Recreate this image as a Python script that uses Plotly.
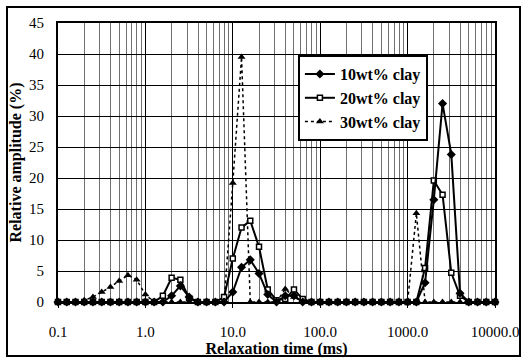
import plotly.graph_objects as go

# Relaxation time grid: 10 points per decade, 0.1 ms .. 10000 ms (51 points)
relax_time_ms = [round(0.1 * 10 ** (i / 10), 6) for i in range(51)]

clay_10wt = [0, 0, 0, 0, 0, 0, 0, 0, 0, 0,
             0, 0, 0, 1.0, 2.6, 0.8, 0, 0, 0, 0,
             1.6, 5.6, 6.8, 4.6, 1.2, 0, 1.0, 1.0, 0, 0,
             0, 0, 0, 0, 0, 0, 0, 0, 0, 0,
             0, 0, 3.1, 16.5, 32.0, 23.8, 1.4, 0, 0, 0,
             0]
clay_20wt = [0, 0, 0, 0, 0, 0, 0, 0, 0, 0,
             0, 0, 1.0, 3.9, 3.6, 0.6, 0, 0, 0, 0.8,
             7.0, 12.0, 13.1, 8.9, 2.0, 0.3, 0.5, 2.0, 0.5, 0,
             0, 0, 0, 0, 0, 0, 0, 0, 0, 0,
             0, 0, 5.5, 19.6, 17.3, 4.7, 1.0, 0, 0, 0,
             0]
clay_30wt = [0, 0, 0, 0.3, 0.8, 1.6, 2.4, 3.4, 4.3, 3.6,
             1.2, 0, 0, 0, 0, 0, 0, 0, 0, 0,
             19.2, 39.5, 0, 0, 0, 0, 2.1, 0.8, 0, 0,
             0, 0, 0, 0, 0, 0, 0, 0, 0, 0,
             0, 14.3, 0, 0, 0, 0, 0, 0, 0, 0,
             0]

series_names = ["10wt% clay", "20wt% clay", "30wt% clay"]
x_tick_vals = [0.1, 1, 10, 100, 1000, 10000]
x_tick_text = ["0.1", "1.0", "10.0", "100.0", "1000.0", "10000.0"]
y_tick_vals = [0, 5, 10, 15, 20, 25, 30, 35, 40, 45]

minor_vals = [m * 10 ** d for d in range(-1, 4) for m in range(2, 10)]

SERIF = "Liberation Serif, Times New Roman, Times, serif"

fig = go.Figure()
# 20wt% drawn first so the filled markers of the other series sit on top at the baseline
fig.add_trace(go.Scatter(
    x=relax_time_ms, y=clay_20wt, name=series_names[1], mode="lines+markers",
    legendrank=2,
    line=dict(color="black", width=2),
    marker=dict(symbol="square", size=5, color="white",
                line=dict(color="black", width=1.5)),
    cliponaxis=False))
fig.add_trace(go.Scatter(
    x=relax_time_ms, y=clay_10wt, name=series_names[0], mode="lines+markers",
    legendrank=1,
    line=dict(color="black", width=2),
    marker=dict(symbol="diamond", size=7, color="black"),
    cliponaxis=False))
fig.add_trace(go.Scatter(
    x=relax_time_ms, y=clay_30wt, name=series_names[2], mode="lines+markers",
    legendrank=3,
    line=dict(color="black", width=1.5, dash="dot"),
    marker=dict(symbol="triangle-up", size=7, color="black"),
    cliponaxis=False))

fig.update_layout(
    width=524, height=358,
    margin=dict(l=58, r=29, t=23, b=56, autoexpand=False),
    paper_bgcolor="white", plot_bgcolor="white",
    font=dict(family=SERIF, color="black", size=15),
    showlegend=True,
    legend=dict(
        x=0.549, y=0.885, xanchor="left", yanchor="top",
        bgcolor="white", bordercolor="black", borderwidth=2,
        font=dict(family=SERIF, size=16, color="black", weight="bold"),
        itemwidth=30, tracegroupgap=0, traceorder="normal",
    ),
    xaxis=dict(
        type="log", range=[-1, 4], automargin=False,
        tickmode="array", tickvals=x_tick_vals, ticktext=x_tick_text,
        tickfont=dict(family=SERIF, size=15),
        showgrid=True, gridcolor="black", gridwidth=1.3,
        minor=dict(tickmode="array", tickvals=minor_vals, showgrid=True,
                   gridcolor="#707070", gridwidth=1, ticks=""),
        showline=True, linecolor="black", linewidth=2, mirror=True,
        ticks="outside", ticklen=4, tickcolor="black",
        ticklabelstandoff=11,
        title=dict(text="<b>Relaxation time (ms)</b>",
                   font=dict(family=SERIF, size=16), standoff=3),
        zeroline=False,
    ),
    yaxis=dict(
        range=[0, 45], automargin=False,
        tickmode="array", tickvals=y_tick_vals,
        tickfont=dict(family=SERIF, size=15),
        showgrid=True, gridcolor="black", gridwidth=1.3,
        showline=True, linecolor="black", linewidth=2, mirror=True,
        ticks="", ticklabelstandoff=9,
        title=dict(text="<b>Relative amplitude (%)</b>",
                   font=dict(family=SERIF, size=16), standoff=3),
        zeroline=False,
    ),
    shapes=[dict(type="rect", xref="paper", yref="paper",
                 x0=-0.1167, x1=1.0572, y0=-0.1935, y1=1.0573,
                 line=dict(color="black", width=2), fillcolor="rgba(0,0,0,0)",
                 layer="below")],
)

fig.write_html("out.html")
